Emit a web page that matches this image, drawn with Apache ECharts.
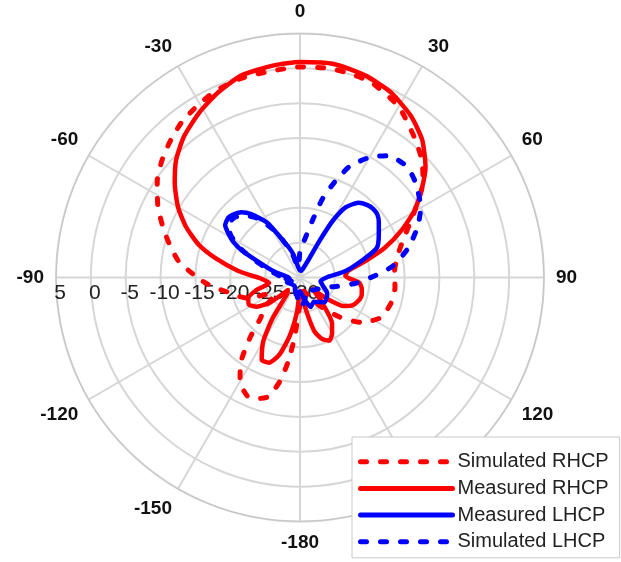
<!DOCTYPE html>
<html>
<head>
<meta charset="utf-8">
<script src="https://cdn.jsdelivr.net/npm/echarts@6/dist/echarts.min.js"></script>
<style>
html,body{margin:0;padding:0;background:#fff;}
#chart{width:621px;height:562px;}
</style>
</head>
<body>
<div id="chart"></div>
<script>
// Angle in degrees (0 = top, clockwise positive), value in dB
const seriesNames = ['Simulated RHCP', 'Measured RHCP', 'Measured LHCP', 'Simulated LHCP'];
const angleTickLabels = ['-90','-60','-30','0','30','60','90','120','150','-180','-150','-120','-90'];

const simRhcpAngles = [-180,-177,-175,-172,-169,-165,-160,-156,-150,-145,-140,-136,-130,-124,-118,-112,-106,-102,-97,-93,-88,-83,-77,-70,-63,-56,-49,-43,-37,-30,-24,-16,-8,0,8,14,20,30,39,46,52,61,69,77,86,96,105,116,126,135,145,155,165,172];
const simRhcpValues = [-26,-24.6,-21.5,-17.8,-14.8,-12.3,-11.5,-11.4,-12.8,-15.2,-19,-21.8,-23.5,-25.5,-25,-22,-20.5,-19.6,-17.8,-16.3,-14.6,-12.6,-11.0,-9.1,-7.1,-5.3,-3.9,-2.9,-1.95,-1.2,-0.6,-0.2,-0.1,0.2,0.3,0.1,-0.2,-1.7,-4.0,-5.7,-7.6,-11.4,-14.0,-15.6,-16.4,-16.3,-16.4,-17.0,-19.0,-22.0,-25,-27,-28,-27.5];

const measRhcpAngles = [-180,-175,-170,-165,-160,-155,-150,-146,-142,-136,-130,-124,-118,-112,-106,-100,-95,-90,-84,-77,-72,-66,-60,-53,-46.5,-39.4,-31.5,-24,-16,-7,0,9,18,26,34.5,41.6,48.6,53.5,59.7,65.2,70.7,76,82,88,95,100,106,112,118,123,128,133,138,145,150,155,160,165,170,175];
const measRhcpValues = [-28,-25,-21.5,-18.5,-17,-17,-19.5,-23,-27,-27.5,-24.5,-22.5,-21.7,-22,-23.5,-25.5,-25,-24,-21.1,-17.5,-14.7,-12.1,-9.8,-7.5,-5.5,-3.8,-2.3,-1.0,0.2,0.65,0.9,1.0,0.45,-0.4,-1.9,-3.6,-6.0,-8.2,-11.0,-14.0,-17.1,-20.4,-23.0,-23.5,-21.5,-21,-20.8,-21,-21.5,-22.5,-25,-27.5,-25.5,-22,-20.8,-20,-20.6,-22,-25.5,-28];

const measLhcpAngles = [-180,-165,-150,-130,-110,-95,-85,-77,-69,-65,-62,-58,-55,-50,-46,-42,-37.6,-31,-26,-20,-16,-10,0,10,20,26,28,30,33,38,43,47,51,55,62,69,74,82,90,100,110,120,135,150,160,170];
const measLhcpValues = [-28,-27.5,-28.5,-28.5,-28,-28.5,-28,-26.2,-23.5,-20.8,-19.2,-17.8,-16.9,-16.6,-16.9,-17.4,-18.5,-20.8,-23.6,-25.5,-26.6,-28.5,-29,-29,-28.5,-27,-24.1,-20.6,-18.0,-16.4,-15.8,-15.6,-15.7,-16.2,-17.2,-18.2,-20.5,-23.4,-26.2,-27,-26.5,-25.5,-25,-26,-25.5,-27];

const simLhcpAngles = [-180,-170,-150,-130,-110,-95,-85,-77,-69,-64,-58,-52,-47,-42,-36,-30,-25,-18,-10,-4,0,7,12.6,16,20,24,30,36,44,51,60,67,75,83,88.5,96,104,115,134,150,165,175];
const simLhcpValues = [-25.8,-27.5,-29,-29,-28.5,-28,-27,-25.5,-23,-20.5,-18.2,-17.2,-17.3,-18,-19.5,-21.8,-24,-26.5,-28.5,-28,-26.2,-24.5,-21.4,-18.2,-15.4,-12.6,-10.1,-8.4,-7.9,-8.6,-10.0,-11.7,-14.0,-16.6,-19.2,-22.0,-24.7,-26.5,-27.4,-28,-27,-26];

// angle axis runs from -90 (left) clockwise to 270
function buildData(angles, values) {
  const pts = angles.map((a, i) => [values[i], a < -90 ? a + 360 : a]);
  pts.sort((p, q) => p[1] - q[1]);
  pts.push([pts[0][0], pts[0][1] + 360]);
  return pts;
}

const RED = '#ff0000', BLUE = '#0000ff';
const dashed = [6, 14];
const FONT = 'Liberation Sans, Arial, sans-serif';

const chart = echarts.init(document.getElementById('chart'), null, {renderer: 'canvas'});
chart.setOption({
  animation: false,
  backgroundColor: '#ffffff',
  polar: { center: [300, 277.5], radius: 244 },
  angleAxis: {
    type: 'value', min: -90, max: 270, interval: 30,
    startAngle: 180, clockwise: true,
    axisLine: { show: true, lineStyle: { color: '#c4c4c4', width: 1 } },
    axisTick: { show: false },
    splitLine: { show: true, lineStyle: { color: '#d6d6d6', width: 2 } },
    axisLabel: {
      margin: 12,
      fontFamily: FONT,
      fontWeight: 'bold', fontSize: 19, color: '#111',
      formatter: function (v) { return angleTickLabels[Math.round((v + 90) / 30)]; }
    }
  },
  radiusAxis: {
    type: 'value', min: -30, max: 5, interval: 5,
    axisLine: { show: false },
    axisTick: { show: false },
    splitLine: { show: true, lineStyle: { color: '#d6d6d6', width: 2 } },
    axisLabel: {
      margin: 5,
      padding: [0, 0, 0, 8],
      fontFamily: FONT,
      fontSize: 21, color: '#222'
    }
  },
  legend: {
    orient: 'vertical',
    left: 352, top: 437,
    padding: [14.7, 11, 6, 6],
    itemWidth: 92, itemHeight: 20, itemGap: 6.7,
    backgroundColor: '#ffffff',
    borderColor: '#c8c8c8', borderWidth: 1,
    itemStyle: { opacity: 0 },
    lineStyle: { width: 5, cap: 'round' },
    textStyle: { fontFamily: FONT, fontSize: 20, color: '#222' },
    data: seriesNames
  },
  series: [
    { name: seriesNames[0], type: 'line', coordinateSystem: 'polar', symbol: 'none', smooth: 0.2,
      lineStyle: { color: RED, width: 5, type: dashed, cap: 'round' }, itemStyle: { color: RED },
      data: buildData(simRhcpAngles, simRhcpValues), z: 2 },
    { name: seriesNames[1], type: 'line', coordinateSystem: 'polar', symbol: 'none', smooth: 0.2,
      lineStyle: { color: RED, width: 4.5, cap: 'round', join: 'round' }, itemStyle: { color: RED },
      data: buildData(measRhcpAngles, measRhcpValues), z: 3 },
    { name: seriesNames[2], type: 'line', coordinateSystem: 'polar', symbol: 'none', smooth: 0.2,
      lineStyle: { color: BLUE, width: 4.5, cap: 'round', join: 'round' }, itemStyle: { color: BLUE },
      data: buildData(measLhcpAngles, measLhcpValues), z: 5 },
    { name: seriesNames[3], type: 'line', coordinateSystem: 'polar', symbol: 'none', smooth: 0.2,
      lineStyle: { color: BLUE, width: 5, type: dashed, cap: 'round' }, itemStyle: { color: BLUE },
      data: buildData(simLhcpAngles, simLhcpValues), z: 4 }
  ]
});
</script>
</body>
</html>
